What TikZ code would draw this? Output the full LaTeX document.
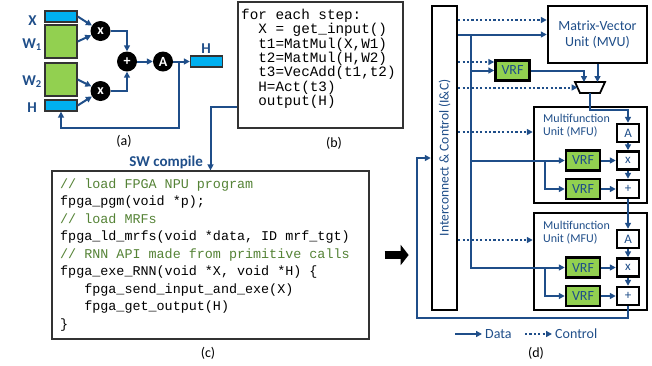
\documentclass[tikz,border=0pt]{standalone}
\usepackage{fontspec}
\setmainfont{Carlito}
\newfontfamily\codefont{Liberation Mono}
\usetikzlibrary{arrows.meta}

\definecolor{npublue}{HTML}{1F4E89}
\definecolor{veccyan}{HTML}{00B0F0}
\definecolor{matgreen}{HTML}{92D050}
\definecolor{cmtgreen}{HTML}{548235}

\tikzset{
  dataflow/.style={npublue, line width=2pt, -{Triangle[length=6pt,width=6pt]}},
  ctrlflow/.style={dataflow, dash pattern=on 2.2pt off 2.2pt},
  vecbox/.style={draw=black!80, line width=1.3pt, fill=veccyan, minimum width=32pt, minimum height=11pt, inner sep=0pt},
  matbox/.style={vecbox, fill=matgreen, minimum height=33pt},
  opnode/.style={circle, fill=black, text=white, minimum size=20pt, inner sep=0pt, font=\fontsize{14}{14}\selectfont\bfseries},
  inlbl/.style={text=npublue, inner sep=0pt, font=\fontsize{15}{15}\selectfont\bfseries},
  codebox/.style={draw=black!80, line width=1.3pt, inner sep=0pt},
  capt/.style={inner sep=0pt, font=\fontsize{14}{14}\selectfont},
  hwbox/.style={draw=black, line width=2.5pt, fill=white, inner sep=0pt, text=npublue},
  vrfbox/.style={hwbox, fill=matgreen, minimum width=34pt, minimum height=20pt, font=\fontsize{14}{14}\selectfont},
  fubox/.style={hwbox, minimum width=22pt, minimum height=18pt, font=\fontsize{13}{13}\selectfont},
  unitlbl/.style={text=npublue, inner sep=0pt, align=left, font=\fontsize{12}{13}\selectfont},
}

\begin{document}
\begin{tikzpicture}[x=1pt,y=-1pt]
\useasboundingbox (0,0) rectangle (652,365);

% (a) the RNN cell
\node[vecbox] (xin) at (61,16.5) {};
\node[matbox] (w1) at (61,41.5) {};
\node[matbox] (w2) at (61,79.5) {};
\node[vecbox] (hin) at (61,105.5) {};
\node[vecbox] (hout) at (206.5,61.5) {};
\node[inlbl, anchor=base] (xlbl) at (32.5,25) {X};
\node[inlbl, anchor=base] (w1lbl) at (32,48) {W\textsubscript{1}};
\node[inlbl, anchor=base] (w2lbl) at (32,85) {W\textsubscript{2}};
\node[inlbl, anchor=base] (hlbl) at (32,112) {H};
\node[inlbl, anchor=base] (houtlbl) at (206,53) {H};

\node[opnode] (mul1) at (100.5,31) {x};
\node[opnode] (mul2) at (100.5,91) {x};
\node[opnode] (add) at (127,61.5) {+};
\node[opnode] (act) at (163,61.5) {A};

\draw[dataflow] (xin.east) -- (mul1);
\draw[dataflow] (w1.east) -- (mul1);
\draw[dataflow] (w2.east) -- (mul2);
\draw[dataflow] (hin.east) -- (mul2);
\draw[dataflow] (mul1.east) -| (add.north);
\draw[dataflow] (mul2.east) -| (add.south);
\draw[dataflow] (add) -- (act);
\draw[dataflow] (act) -- (hout);
\draw[dataflow] ([xshift=6pt]act.east) -- ++(0,66) -| (hin.south);
\node[capt] (capa) at (124,141.5) {(a)};

% (b) pseudo code
\node[codebox, minimum width=165pt, minimum height=126pt] (boxb) at (320.5,65) {};
\node[anchor=north west, inner sep=0pt, align=left, font=\codefont\fontsize{14.3}{14.3}\selectfont] (codeb) at (241,9)
  {for each step:\\
   \phantom{xx}X = get\_input()\\
   \phantom{xx}t1=MatMul(X,W1)\\
   \phantom{xx}t2=MatMul(H,W2)\\
   \phantom{xx}t3=VecAdd(t1,t2)\\
   \phantom{xx}H=Act(t3)\\
   \phantom{xx}output(H)};
\node[capt] (capb) at (334,143.5) {(b)};

% (c) host API
\node[codebox, minimum width=317pt, minimum height=168pt] (boxc) at (210.5,255) {};
\node[anchor=north west, inner sep=0pt, align=left, font=\codefont\fontsize{13.4}{17.5}\selectfont] (codec) at (60,178.3)
  {\textcolor{cmtgreen}{// load FPGA NPU program}\\
   fpga\_pgm(void *p);\\
   \textcolor{cmtgreen}{// load MRFs}\\
   fpga\_ld\_mrfs(void *data, ID mrf\_tgt)\\
   \textcolor{cmtgreen}{// RNN API made from primitive calls}\\
   fpga\_exe\_RNN(void *X, void *H) \{\\
   \phantom{xxx}fpga\_send\_input\_and\_exe(X)\\
   \phantom{xxx}fpga\_get\_output(H)\\
   \}};
\node[capt] (capc) at (208,353.5) {(c)};

\draw[dataflow] ([yshift=-42pt]boxb.west) -| (boxc.north);
\node[inlbl, anchor=base east] (swlbl) at (203,166) {SW compile};
\draw[line width=8pt, -{Triangle[length=8pt,width=20pt]}] ([xshift=15pt]boxc.east) -- ([xshift=39pt]boxc.east);

% (d) NPU
\node[hwbox, minimum width=25pt, minimum height=304pt] (ic) at (444.5,158) {};
\node[text=npublue, rotate=90, font=\fontsize{13.5}{13.5}\selectfont] (iclbl) at (ic.center) {Interconnect \& Control (I\&C)};
\node[hwbox, minimum width=99pt, minimum height=57pt, align=center, font=\fontsize{14}{16}\selectfont] (mvu) at (597.5,34.5) {Matrix-Vector\\Unit (MVU)};
\node[vrfbox] (vrfa) at (512.5,70.5) {VRF};
% mux
\draw[line width=1.8pt, fill=white] (575,82) -- (605,82) -- (600,93) -- (580,93) -- cycle;
\coordinate (muxtop) at (590,82);
\coordinate (muxbot) at (590,93);
\coordinate (muxleft) at (577.5,87.5);

\node[hwbox, minimum width=113pt, minimum height=96pt] (mfua) at (590.5,155) {};
\node[unitlbl, anchor=north west] (mfualbl) at (543,113.5) {Multifunction\\Unit (MFU)};
\node[fubox] (fa1) at (628,133) {A};
\node[fubox] (fx1) at (628,160.5) {x};
\node[fubox] (fp1) at (628,189) {+};
\node[vrfbox] (vrfb) at (583,160.5) {VRF};
\node[vrfbox] (vrfc) at (583,189) {VRF};

\node[hwbox, minimum width=113pt, minimum height=97pt] (mfub) at (590.5,261.5) {};
\node[unitlbl, anchor=north west] (mfublbl) at (543,220.5) {Multifunction\\Unit (MFU)};
\node[fubox] (fa2) at (628,239) {A};
\node[fubox] (fx2) at (628,267.5) {x};
\node[fubox] (fp2) at (628,296) {+};
\node[vrfbox] (vrfd) at (583,267.5) {VRF};
\node[vrfbox] (vrfe) at (583,296) {VRF};

% data paths
\coordinate (trunk) at (470.5,34.5);
\draw[dataflow] (ic.east |- mvu.west) -- (mvu.west);
\draw[dataflow] (trunk) |- (vrfd.west);
\draw[dataflow] (trunk |- vrfa.west) -- (vrfa.west);
\draw[dataflow] (trunk |- vrfb.west) -- (vrfb.west);
\draw[dataflow] ([xshift=-20pt]vrfb.west) |- (vrfc.west);
\draw[dataflow] ([xshift=-20pt]vrfd.west) |- (vrfe.west);
\draw[dataflow] (vrfa.east) -| ([xshift=-6pt]muxtop);
\draw[dataflow] (mvu.south) -- (mvu.south |- muxtop);
\draw[dataflow] (muxbot) -- ++(0,17) -| (fa1.north);
\draw[dataflow] (fa1) -- (fx1);
\draw[dataflow] (fx1) -- (fp1);
\draw[dataflow] (fp1) -- (fa2);
\draw[dataflow] (fa2) -- (fx2);
\draw[dataflow] (fx2) -- (fp2);
\draw[dataflow] (vrfb) -- (fx1);
\draw[dataflow] (vrfc) -- (fp1);
\draw[dataflow] (vrfd) -- (fx2);
\draw[dataflow] (vrfe) -- (fp2);
\draw[dataflow] (fp2.south) -- ++(0,12) -| ([xshift=-14pt]ic.west) -- (ic.west);

% control paths
\draw[ctrlflow] (ic.east |- 0,20) -- (mvu.west |- 0,20);
\draw[ctrlflow] (ic.east |- 0,62) -- (vrfa.west |- 0,62);
\draw[ctrlflow] (ic.east |- muxleft) -- (muxleft);
\draw[ctrlflow] (ic.east |- 0,132) -- (mfua.west |- 0,132);
\draw[ctrlflow] (ic.east |- 0,240) -- (mfub.west |- 0,240);

% legend
\node[text=npublue, anchor=west, inner sep=0pt, font=\fontsize{14}{14}\selectfont] (datalbl) at (485,334) {Data};
\node[text=npublue, anchor=west, inner sep=0pt, font=\fontsize{14}{14}\selectfont] (ctrllbl) at (555,334) {Control};
\draw[dataflow] ([xshift=-30pt]datalbl.west) -- ([xshift=-3pt]datalbl.west);
\draw[ctrlflow] ([xshift=-30pt]ctrllbl.west) -- ([xshift=-3pt]ctrllbl.west);
\node[capt] (capd) at (536,353.5) {(d)};
\end{tikzpicture}
\end{document}
